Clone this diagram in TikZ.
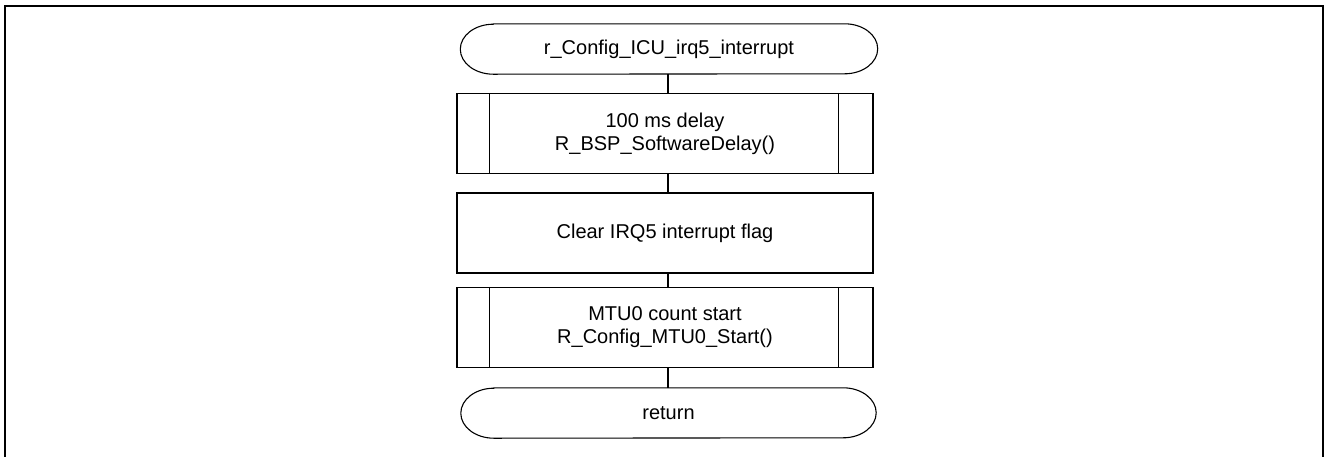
\documentclass[tikz,border=0pt]{standalone}
\usepackage{fontspec}
\setmainfont{Liberation Sans}
\begin{document}
\begin{tikzpicture}[x=1pt,y=-1pt,
  every node/.style={font=\fontsize{20}{23}\selectfont, align=center, inner sep=0pt},
  shp/.style={line width=1.1pt},
  procbox/.style={shp, draw, minimum width=416pt, minimum height=80pt},
  termbox/.style={minimum width=417pt, minimum height=50pt},
  conn/.style={line width=1.1pt}]
\useasboundingbox (0,0) rectangle (1328,456);
\begin{scope}
\clip (0,0) rectangle (1328,456);
\draw[line width=2.4pt] (5,480) -- (5,6) -- (1323,6) -- (1323,480);
\end{scope}
% start terminal
\node[termbox] (start) at (669,49) {r\_Config\_ICU\_irq5\_interrupt};
\draw[shp] ([xshift=33pt]start.north west) -- ([xshift=-33pt]start.north east)
  arc[start angle=90,end angle=-90,x radius=33pt,y radius=25pt]
  -- ([xshift=33pt]start.south west)
  arc[start angle=270,end angle=90,x radius=33pt,y radius=25pt] -- cycle;
% box 1
\node[procbox] (p1) at (665,133.5) {100 ms delay\\R\_BSP\_SoftwareDelay()};
\draw[shp] ([xshift=33pt]p1.north west) -- ([xshift=33pt]p1.south west);
\draw[shp] ([xshift=-35pt]p1.north east) -- ([xshift=-35pt]p1.south east);
% box 2
\node[procbox] (p2) at (665,233) {Clear IRQ5 interrupt flag};
% box 3
\node[procbox] (p3) at (665,327.5) {MTU0 count start\\R\_Config\_MTU0\_Start()};
\draw[shp] ([xshift=33pt]p3.north west) -- ([xshift=33pt]p3.south west);
\draw[shp] ([xshift=-35pt]p3.north east) -- ([xshift=-35pt]p3.south east);
% return terminal
\node[termbox, minimum width=415pt] (ret) at (668.5,413) {return};
\draw[shp] ([xshift=33pt]ret.north west) -- ([xshift=-33pt]ret.north east)
  arc[start angle=90,end angle=-90,x radius=33pt,y radius=25pt]
  -- ([xshift=33pt]ret.south west)
  arc[start angle=270,end angle=90,x radius=33pt,y radius=25pt] -- cycle;
% connectors
\coordinate (cx) at (668,0);
\draw[conn] (start.south -| cx) -- (p1.north -| cx);
\draw[conn] (p1.south -| cx) -- (p2.north -| cx);
\draw[conn] (p2.south -| cx) -- (p3.north -| cx);
\draw[conn] (p3.south -| cx) -- (ret.north -| cx);
\end{tikzpicture}
\end{document}
